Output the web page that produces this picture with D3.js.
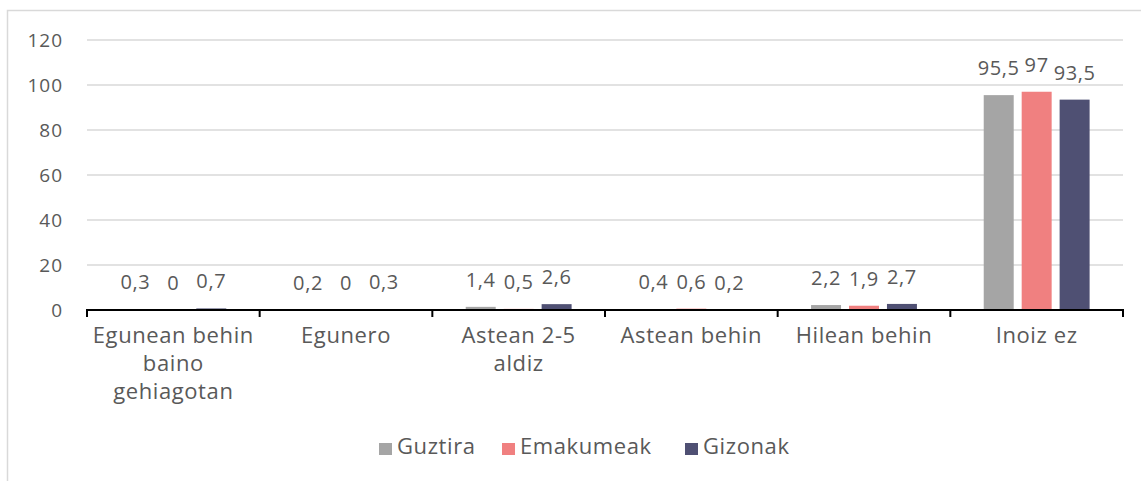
<!DOCTYPE html>
<html>
<head>
<meta charset="utf-8">
<script src="https://cdn.jsdelivr.net/npm/d3@7"></script>
<style>
  body { margin: 0; background: #fff; }
  text { font-family: "Open Sans", Lato, sans-serif; fill: #595959; }
</style>
</head>
<body>
<div id="the_chart"></div>
<script>
var categories = ["Egunean behin baino gehiagotan", "Egunero", "Astean 2-5 aldiz", "Astean behin", "Hilean behin", "Inoiz ez"];
var seriesNames = ["Guztira", "Emakumeak", "Gizonak"];
var guztira = [0.3, 0.2, 1.4, 0.4, 2.2, 95.5];
var emakumeak = [0, 0, 0.5, 0.6, 1.9, 97];
var gizonak = [0.7, 0.3, 2.6, 0.2, 2.7, 93.5];
var yTicks = [0, 20, 40, 60, 80, 100, 120];
var colors = ["#a5a5a5", "#f08080", "#4f5073"];

var w = 1141;
var h = 481;

var svg = d3.select("#the_chart")
    .append("svg")
    .attr("width", w)
    .attr("height", h);

// chart frame (right/bottom edges fall outside the picture)
svg.append("rect")
    .attr("x", 7.5).attr("y", 10.5)
    .attr("width", 1200).attr("height", 600)
    .attr("fill", "none")
    .attr("stroke", "#d9d9d9")
    .attr("stroke-width", 1.5);

var x0 = d3.scaleBand().domain(categories).range([87, 1123]);
var x1 = d3.scaleBand().domain(seriesNames).range([0, x0.bandwidth()]).paddingInner(0.21).paddingOuter(0.88);
var y = d3.scaleLinear().domain([0, 120]).range([310, 40]);

// gridlines
svg.selectAll(".grid")
    .data(yTicks.filter(function (d) { return d > 0; }))
    .enter()
    .append("line")
    .attr("x1", 87).attr("x2", 1123)
    .attr("y1", function (d) { return y(d); })
    .attr("y2", function (d) { return y(d); })
    .attr("stroke", "#d9d9d9")
    .attr("stroke-width", 1.5);

// y tick labels
svg.selectAll(".ylab")
    .data(yTicks)
    .enter()
    .append("text")
    .attr("x", 63)
    .attr("y", function (d) { return y(d); })
    .attr("dy", "0.35em")
    .attr("text-anchor", "end")
    .style("font-size", "19px")
    .style("letter-spacing", "1px")
    .text(function (d) { return d; });

var table = categories.map(function (c, i) {
    return { cat: c, vals: [guztira[i], emakumeak[i], gizonak[i]] };
});

var groups = svg.selectAll(".grp")
    .data(table)
    .enter()
    .append("g")
    .attr("transform", function (d) { return "translate(" + x0(d.cat) + ",0)"; });

var items = function (d) {
    return d.vals.map(function (v, j) { return { name: seriesNames[j], v: v, j: j }; });
};

groups.selectAll("rect")
    .data(items)
    .enter()
    .append("rect")
    .attr("x", function (d) { return x1(d.name); })
    .attr("width", x1.bandwidth())
    .attr("y", function (d) { return y(d.v); })
    .attr("height", function (d) { return 310 - y(d.v); })
    .attr("fill", function (d) { return colors[d.j]; });

groups.selectAll(".val")
    .data(items)
    .enter()
    .append("text")
    .attr("x", function (d) { return x1(d.name) + x1.bandwidth() / 2; })
    .attr("y", function (d) { return y(d.v) - 20; })
    .attr("text-anchor", "middle")
    .style("font-size", "20px")
    .style("letter-spacing", "0.6px")
    .text(function (d) { return String(d.v).replace(".", ","); });

// x axis
var xAxis = svg.append("g").attr("transform", "translate(0,310)");
xAxis.append("line")
    .attr("x1", 86).attr("x2", 1124)
    .attr("stroke", "#000").attr("stroke-width", 2);
xAxis.selectAll(".tick")
    .data(categories.concat(["end"]))
    .enter()
    .append("line")
    .attr("x1", function (d) { return d === "end" ? 1123 : x0(d); })
    .attr("x2", function (d) { return d === "end" ? 1123 : x0(d); })
    .attr("y1", 0).attr("y2", 7)
    .attr("stroke", "#000").attr("stroke-width", 2);

// category labels, wrapped
xAxis.selectAll(".catlab")
    .data(categories)
    .enter()
    .append("text")
    .attr("x", function (d) { return x0(d) + x0.bandwidth() / 2; })
    .attr("y", 33)
    .attr("text-anchor", "middle")
    .style("font-size", "22px")
    .style("letter-spacing", "0.6px")
    .each(function (d) {
        var t = d3.select(this);
        var words = d.split(" ");
        var line = [];
        var tspan = t.append("tspan").attr("x", t.attr("x")).attr("dy", 0);
        words.forEach(function (wd) {
            line.push(wd);
            tspan.text(line.join(" "));
            if (tspan.node().getComputedTextLength() > 168 && line.length > 1) {
                line.pop();
                tspan.text(line.join(" "));
                line = [wd];
                tspan = t.append("tspan").attr("x", t.attr("x")).attr("dy", 28).text(wd);
            }
        });
    });

// legend
var legX = [379, 502, 685];
var legend = svg.selectAll(".leg")
    .data(seriesNames)
    .enter()
    .append("g")
    .attr("transform", function (d, i) { return "translate(" + legX[i] + ",443)"; });
legend.append("rect")
    .attr("width", 13).attr("height", 12)
    .attr("fill", function (d, i) { return colors[i]; });
legend.append("text")
    .attr("x", 18).attr("y", 3)
    .attr("dy", "0.35em")
    .style("font-size", "22px")
    .style("letter-spacing", "0.6px")
    .text(function (d) { return d; });
</script>
</body>
</html>
